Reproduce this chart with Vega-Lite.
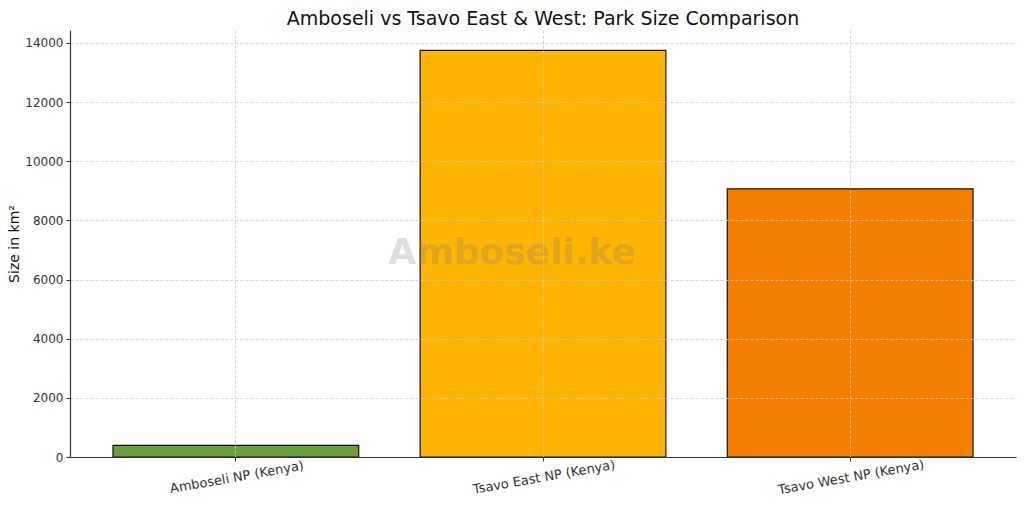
{
  "$schema": "https://vega.github.io/schema/vega-lite/v6.json",
  "autosize": "none",
  "width": 946,
  "height": 427,
  "padding": {"left": 70, "top": 30, "right": 8, "bottom": 51},
  "background": "white",
  "config": {
    "view": {"stroke": null},
    "font": "DejaVu Sans"
  },
  "title": {
    "text": "Amboseli vs Tsavo East & West: Park Size Comparison",
    "fontSize": 19,
    "fontWeight": "normal",
    "font": "DejaVu Sans",
    "color": "#111111",
    "anchor": "middle",
    "baseline": "alphabetic",
    "offset": 6,
    "dy": 20
  },
  "datasets": {
    "parks": [
      {"park": "Amboseli NP (Kenya)", "size": 392, "color": "#6a9f3e"},
      {"park": "Tsavo East NP (Kenya)", "size": 13747, "color": "#ffb400"},
      {"park": "Tsavo West NP (Kenya)", "size": 9065, "color": "#f57f00"}
    ],
    "mark": [{"label": "Amboseli.ke"}]
  },
  "layer": [
    {
      "data": {"name": "parks"},
      "mark": {"type": "bar", "stroke": "#111111", "strokeWidth": 1.2},
      "encoding": {
        "x": {
          "field": "park",
          "type": "nominal",
          "sort": null,
          "scale": {"paddingInner": 0.2, "paddingOuter": 0.14},
          "axis": {
            "title": null,
            "labelAngle": -10,
            "labelAlign": "center",
            "labelBaseline": "top",
            "labelFontSize": 13,
            "labelColor": "#333333",
            "labelPadding": 10,
            "bandPosition": 0.5,
            "tickSize": 4,
            "tickColor": "#333333",
            "domainColor": "#333333",
            "domainWidth": 1.2,
            "grid": true,
            "gridColor": "#cccccc",
            "gridDash": [3, 2],
            "gridWidth": 0.8,
            "zindex": 1
          }
        },
        "y": {
          "field": "size",
          "type": "quantitative",
          "scale": {"domain": [0, 14434], "nice": false},
          "axis": {
            "title": "Size in km²",
            "titleFontSize": 14,
            "titleFontWeight": "normal",
            "titleColor": "#111111",
            "titlePadding": 3,
            "values": [0, 2000, 4000, 6000, 8000, 10000, 12000, 14000],
            "format": "d",
            "labelFontSize": 12,
            "labelColor": "#333333",
            "labelPadding": 3,
            "tickSize": 4,
            "tickColor": "#333333",
            "domainColor": "#333333",
            "domainWidth": 1.2,
            "grid": true,
            "gridColor": "#cccccc",
            "gridDash": [3, 2],
            "gridWidth": 0.8,
            "zindex": 1
          }
        },
        "color": {"field": "color", "type": "nominal", "scale": null, "legend": null}
      }
    },
    {
      "data": {"name": "mark"},
      "mark": {
        "type": "text",
        "font": "DejaVu Sans",
        "fontWeight": "bold",
        "fontSize": 36,
        "fill": "gray",
        "opacity": 0.25,
        "align": "center",
        "baseline": "middle",
        "x": {"expr": "width/2 - 31"},
        "y": {"expr": "height/2 + 9"}
      },
      "encoding": {"text": {"field": "label", "type": "nominal"}}
    }
  ]
}
